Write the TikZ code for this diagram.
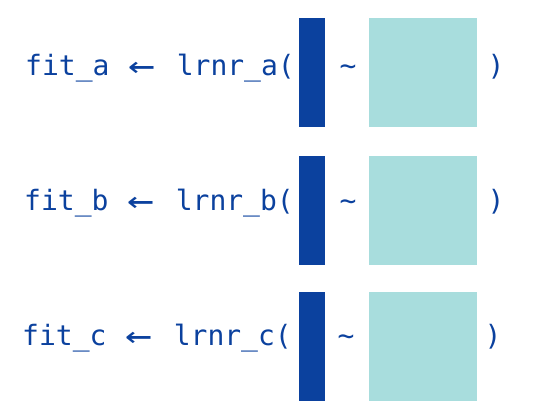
\documentclass[tikz,border=0pt]{standalone}
\usepackage{fontspec}
\setmonofont{DejaVu Sans Mono}
\usepackage{xcolor}
\usepackage{tikz}
\usetikzlibrary{positioning}
\definecolor{codeblue}{RGB}{11,65,158}
\definecolor{boxteal}{RGB}{168,221,221}
\tikzstyle{code} = [inner sep=0pt, text=codeblue, font=\ttfamily\fontsize{28}{32}\selectfont, anchor=base]
\tikzstyle{bar} = [rectangle, fill=codeblue, minimum width=26pt, minimum height=109pt, inner sep=0pt]
\tikzstyle{tealbox} = [rectangle, fill=boxteal, minimum width=108pt, minimum height=109pt, inner sep=0pt]
\newcommand{\larr}{\raisebox{-2pt}{\scalebox{1.6}[1.25]{←}}}

\begin{document}
\begin{tikzpicture}[x=1pt, y=-1pt]
                \useasboundingbox (0,0) rectangle (544,414);
                % column and data blocks
                \node[bar, anchor=north west] (bar_a) at (299,18) {};
                \node[tealbox, right=43pt of bar_a] (box_a) {};
                \node[bar, below=28pt of bar_a] (bar_b) {};
                \node[tealbox, right=43pt of bar_b] (box_b) {};
                \node[bar, below=27pt of bar_b] (bar_c) {};
                \node[tealbox, right=43pt of bar_c] (box_c) {};

                % row a
                \node[code, anchor=base west] (fit_a) at (25,76) {fit\_a};
                \node[code] (arr_a) at (142,76) {\larr};
                \node[code, anchor=base east] (call_a) at (295,76) {lrnr\_a(};
                \node[code] (tilde_a) at (348,76) {\char`\~};
                \node[code] (close_a) at (496,76) {)};

                % row b
                \node[code, anchor=base west] (fit_b) at (24,211) {fit\_b};
                \node[code] (arr_b) at (141,211) {\larr};
                \node[code, anchor=base east] (call_b) at (294,211) {lrnr\_b(};
                \node[code] (tilde_b) at (348,211) {\char`\~};
                \node[code] (close_b) at (496,211) {)};

                % row c
                \node[code, anchor=base west] (fit_c) at (22,345) {fit\_c};
                \node[code] (arr_c) at (139,345) {\larr};
                \node[code, anchor=base east] (call_c) at (292,345) {lrnr\_c(};
                \node[code] (tilde_c) at (346,345) {\char`\~};
                \node[code] (close_c) at (493,345) {)};
            \end{tikzpicture}
\end{document}
